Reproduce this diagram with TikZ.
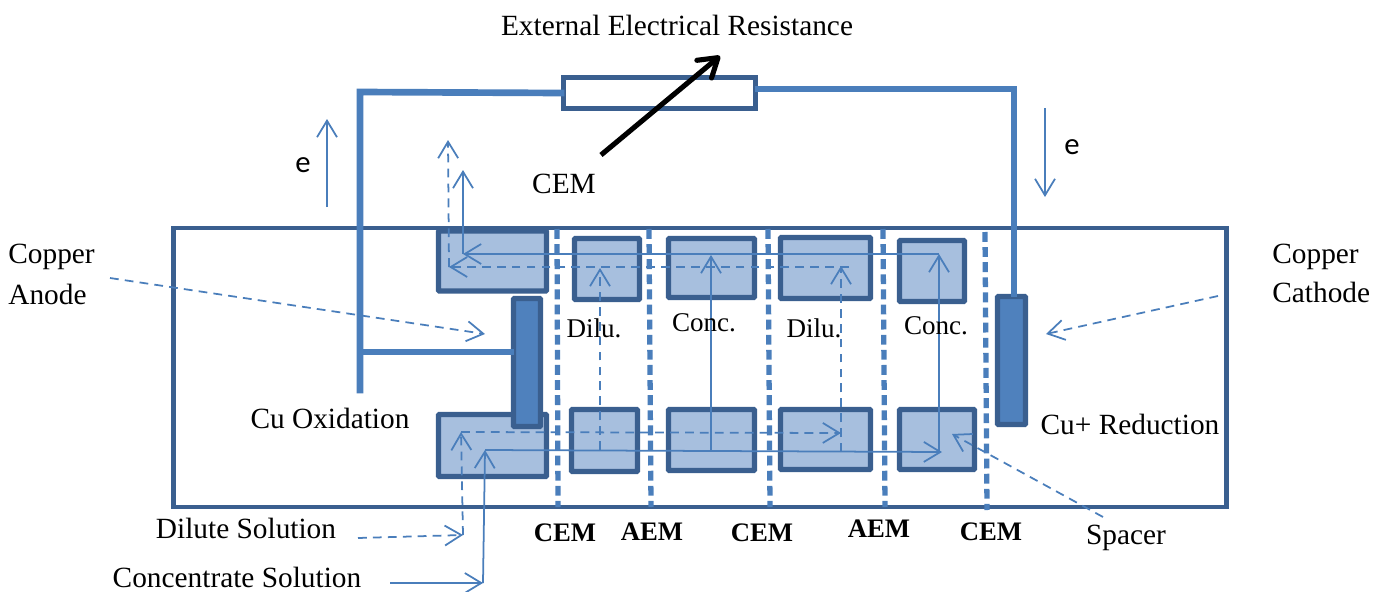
\documentclass[tikz,border=0pt]{standalone}
\usepackage{fontspec}
\setmainfont{Liberation Serif}
\newfontfamily\efont{Carlito}
\usetikzlibrary{arrows.meta}
\definecolor{wireblue}{HTML}{4A7EBB}
\definecolor{edgeblue}{HTML}{3A5F8F}
\definecolor{spacerblue}{HTML}{A7BFDE}
\definecolor{electrodeblue}{HTML}{4F81BD}
\tikzset{
  flowtip/.style={-{Straight Barb[length=3.3mm,width=4mm,line width=1pt]}},
  wire/.style={wireblue, line width=3.8pt, line cap=rect},
  spacerbox/.style={draw=edgeblue, fill=spacerblue, line width=3.1pt, rounded corners=0.5pt, inner sep=0pt},
  electrode/.style={draw=edgeblue, fill=electrodeblue, line width=3.1pt, rounded corners=0.5pt, inner sep=0pt},
  membrane/.style={wireblue, line width=3pt, dash pattern=on 5.6pt off 3pt},
  conc/.style={wireblue, line width=1pt},
  dilu/.style={wireblue, line width=1pt, dash pattern=on 5pt off 3.5pt},
  lbl/.style={font=\fontsize{16.7}{20}\selectfont, inner sep=0pt},
  memlbl/.style={font=\fontsize{15.2}{18}\selectfont\bfseries, inner sep=0pt},
  smalllbl/.style={font=\fontsize{15.4}{18}\selectfont, inner sep=0pt}
}
\begin{document}
\begin{tikzpicture}[x=0.02cm, y=-0.02cm]
    \useasboundingbox (0, 0) rectangle (1384, 592);

    % cell
    \node [draw=edgeblue, line width=2.8pt, minimum width=21.08cm, minimum height=5.58cm, inner sep=0pt] (cell) at (700, 367.5) {};

    % spacers
    \node [spacerbox, minimum width=2.16cm, minimum height=1.2cm] (spaceta) at (492.5, 261) {};
    \node [spacerbox, minimum width=1.3cm, minimum height=1.22cm] (spacetb) at (607, 269) {};
    \node [spacerbox, minimum width=1.72cm, minimum height=1.18cm] (spacetc) at (711.5, 268) {};
    \node [spacerbox, minimum width=1.8cm, minimum height=1.22cm] (spacetd) at (825.5, 268) {};
    \node [spacerbox, minimum width=1.3cm, minimum height=1.22cm] (spacete) at (932, 271) {};
    \node [spacerbox, minimum width=2.16cm, minimum height=1.24cm] (spaceba) at (492.5, 445.5) {};
    \node [spacerbox, minimum width=1.32cm, minimum height=1.24cm] (spacebb) at (604.5, 440.5) {};
    \node [spacerbox, minimum width=1.72cm, minimum height=1.22cm] (spacebc) at (711.5, 440) {};
    \node [spacerbox, minimum width=1.8cm, minimum height=1.2cm] (spacebd) at (825.5, 439.5) {};
    \node [spacerbox, minimum width=1.5cm, minimum height=1.2cm] (spacebe) at (937, 439.5) {};

    % electrodes
    \node [electrode, minimum width=0.54cm, minimum height=2.56cm] (anode) at (527, 362.5) {};
    \node [electrode, minimum width=0.56cm, minimum height=2.56cm] (cathode) at (1011.5, 360.5) {};

    % resistor
    \node [draw=edgeblue, fill=white, line width=2.8pt, minimum width=3.84cm, minimum height=0.62cm, inner sep=0pt] (resistor) at (659.5, 93) {};

    % wires
    \coordinate (wirestart) at (360, 390);
    \coordinate (wiretop) at (360, 92);
    \coordinate (wirebranch) at (360, 352);
    \coordinate (wireright) at (1014, 89);
    \draw [wire] (wirestart) -- (wiretop) -- (resistor.west);
    \draw [wire] (wirebranch) -- (anode.west |- wirebranch);
    \draw [wire] (resistor.east |- wireright) -- (wireright) -- (cathode.north -| wireright);
    \coordinate (knobfrom) at (601, 155);
    \coordinate (knobto) at (720, 56);
    \draw [-{Straight Barb[length=3.6mm,width=4.6mm,round]}, line width=2.9pt] (knobfrom) -- (knobto);

    % membranes
    \coordinate (mema) at (557, 229);
    \coordinate (memaend) at (558, 507);
    \coordinate (memb) at (649, 229);
    \coordinate (membend) at (651, 507);
    \coordinate (memc) at (768, 229);
    \coordinate (memcend) at (770, 507);
    \coordinate (memd) at (883, 229);
    \coordinate (memdend) at (885, 507);
    \coordinate (meme) at (985, 232);
    \coordinate (memeend) at (987, 510);
    \draw [membrane] (mema) -- (memaend);
    \draw [membrane] (memb) -- (membend);
    \draw [membrane] (memc) -- (memcend);
    \draw [membrane] (memd) -- (memdend);
    \draw [membrane] (meme) -- (memeend);

    % concentrate stream
    \coordinate (concin) at (390, 583);
    \coordinate (concup) at (483, 583);
    \coordinate (concb) at (485, 450);
    \coordinate (concbend) at (942, 452);
    \coordinate (concmidb) at (711, 451);
    \coordinate (concmidt) at (711, 255);
    \coordinate (concrightb) at (939, 452);
    \coordinate (concrightt) at (939, 254);
    \coordinate (conctopend) at (463, 254);
    \coordinate (concout) at (463, 170);
    \draw [conc, flowtip] (concin) -- (concup);
    \draw [conc, flowtip] (concup) -- (concb);
    \draw [conc, flowtip] (concb) -- (concbend);
    \draw [conc, flowtip] (concmidb) -- (concmidt);
    \draw [conc, flowtip] (concrightb) -- (concrightt);
    \draw [conc, flowtip] (concrightt) -- (conctopend);
    \draw [conc, flowtip] (conctopend) -- (concout);

    % dilute stream
    \coordinate (diluin) at (358, 538);
    \coordinate (diluup) at (463, 535);
    \coordinate (dilub) at (461, 432);
    \coordinate (dilubend) at (841, 433);
    \coordinate (dilumidb) at (600, 450);
    \coordinate (dilumidt) at (600, 268);
    \coordinate (dilurightb) at (841, 452);
    \coordinate (dilurightt) at (841, 266);
    \coordinate (dilutop) at (849, 267);
    \coordinate (dilutopend) at (449, 267);
    \coordinate (diluout) at (448, 140);
    \draw [dilu, flowtip] (diluin) -- (diluup);
    \draw [dilu, flowtip] (diluup) -- (dilub);
    \draw [dilu, flowtip] (dilub) -- (dilubend);
    \draw [dilu, flowtip] (dilumidb) -- (dilumidt);
    \draw [dilu, flowtip] (dilurightb) -- (dilurightt);
    \draw [dilu, flowtip] (dilutop) -- (dilutopend);
    \draw [dilu, flowtip] (dilutopend) -- (diluout);

    % callouts
    \coordinate (anodefrom) at (110, 278);
    \coordinate (anodeto) at (485, 334);
    \coordinate (cathfrom) at (1218, 296);
    \coordinate (cathto) at (1046, 334);
    \coordinate (spacerfrom) at (1103, 517);
    \coordinate (spacerto) at (952, 434);
    \draw [dilu, flowtip] (anodefrom) -- (anodeto);
    \draw [dilu, flowtip] (cathfrom) -- (cathto);
    \draw [dilu, flowtip] (spacerfrom) -- (spacerto);

    % electrons
    \coordinate (eupfrom) at (327, 207);
    \coordinate (eupto) at (327, 119);
    \coordinate (edownfrom) at (1045, 108);
    \coordinate (edownto) at (1045, 197);
    \draw [conc, flowtip] (eupfrom) -- (eupto);
    \draw [conc, flowtip] (edownfrom) -- (edownto);
    \node [lbl, font=\efont\fontsize{17.5}{20}\selectfont] (eleft) at (303, 165) {e};
    \node [lbl, font=\efont\fontsize{17.5}{20}\selectfont] (eright) at (1072, 147) {e};

    % labels
    \node [lbl] (title) at (677, 25) {External Electrical Resistance};
    \node [lbl] (knoblabel) at (564, 184) {CEM};
    \node [lbl, align=left, anchor=west] (anodea) at (8, 257) {Copper};
    \node [lbl, align=left, anchor=west] (anodeb) at (8, 294) {Anode};
    \node [lbl, align=left, anchor=west] (cathodea) at (1272, 257) {Copper};
    \node [lbl, align=left, anchor=west] (cathodeb) at (1272, 292) {Cathode};
    \node [lbl] (oxid) at (330, 418) {Cu Oxidation};
    \node [lbl] (reduc) at (1130, 424) {Cu+ Reduction};
    \node [smalllbl] (dilua) at (594, 328) {Dilu.};
    \node [smalllbl] (conca) at (704, 323) {Conc.};
    \node [smalllbl] (dilub) at (814, 328) {Dilu.};
    \node [smalllbl] (concb) at (936, 326) {Conc.};
    \node [memlbl] (cema) at (565, 533) {CEM};
    \node [memlbl] (aema) at (652, 532) {AEM};
    \node [memlbl] (cemb) at (762, 533) {CEM};
    \node [memlbl] (aemb) at (879, 529) {AEM};
    \node [memlbl] (cemc) at (991, 532) {CEM};
    \node [lbl] (spacerlabel) at (1126, 538) {Spacer};
    \node [lbl] (dilulabel) at (246, 528) {Dilute Solution};
    \node [lbl] (conclabel) at (237, 577) {Concentrate Solution};
  \end{tikzpicture}
\end{document}
